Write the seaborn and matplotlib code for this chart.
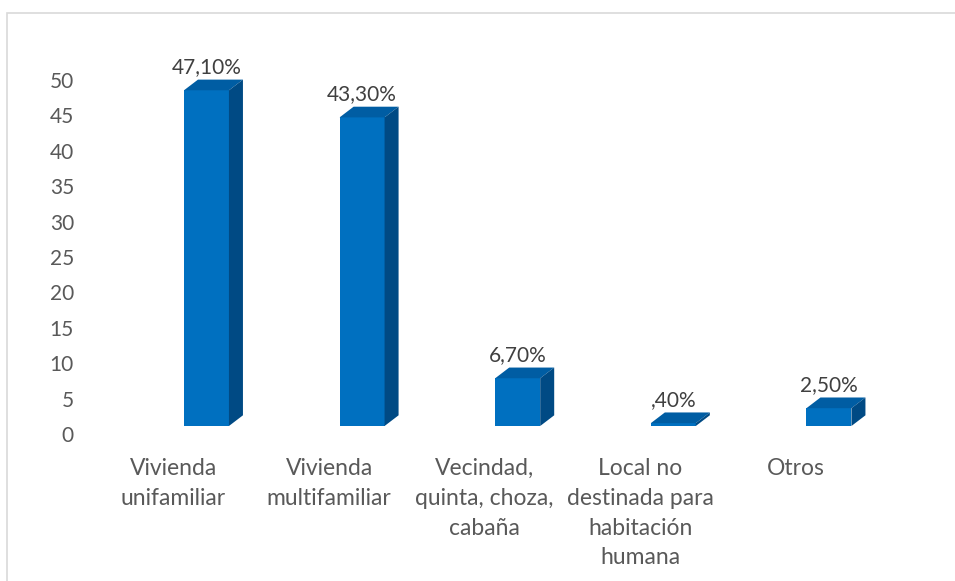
import numpy as np
import pandas as pd
import matplotlib
matplotlib.use("Agg")
import matplotlib.pyplot as plt
from matplotlib.patches import Polygon, Rectangle
import seaborn as sns

categories = [
    "Vivienda\nunifamiliar",
    "Vivienda\nmultifamiliar",
    "Vecindad,\nquinta, choza,\ncabaña",
    "Local no\ndestinada para\nhabitación\nhumana",
    "Otros",
]
values = [47.1, 43.3, 6.7, 0.4, 2.5]
y_ticks = [0, 5, 10, 15, 20, 25, 30, 35, 40, 45, 50]

FRONT = "#0070C0"
TOP = "#005DA3"
SIDE = "#004A84"
TEXT = "#595959"
LABEL = "#404040"

sns.set_theme(style="white")
plt.rcParams["font.family"] = ["Lato", "DejaVu Sans"]

W, H = 955, 581
fig = plt.figure(figsize=(W / 100, H / 100), dpi=100)


def px_axes(x0, y_top, x1, y_bot):
    return [x0 / W, (H - y_bot) / H, (x1 - x0) / W, (y_bot - y_top) / H]


# chart frame (continues past the right and bottom edges)
fig.patches.append(Rectangle((7 / W, -0.05), (980 - 7) / W, (H - 13) / H + 0.05,
                             transform=fig.transFigure, fill=False,
                             edgecolor="#D9D9D9", lw=1.2))

# value axis on the back wall
ax_y = fig.add_axes(px_axes(76, 434 - 55 * 7.08, 955, 434))
ax_y.set_ylim(0, 55)
ax_y.set_yticks(y_ticks)
ax_y.set_xticks([])
ax_y.tick_params(axis="y", length=0, pad=1.5, labelsize=15, labelcolor=TEXT)
for s in ax_y.spines.values():
    s.set_visible(False)
ax_y.patch.set_alpha(0)

# bars
ax = fig.add_axes(px_axes(72, 34, 955, 426))
df = pd.DataFrame({"cat": categories, "val": values})
bar_w = 0.289
sns.barplot(data=df, x="cat", y="val", color=FRONT, width=bar_w,
            saturation=1, ax=ax, zorder=3)
ax.set_ylim(0, 55)
ax.set_xlim(-0.864, 4.810)
ax.patch.set_alpha(0)
for s in ax.spines.values():
    s.set_visible(False)
ax.set_yticks([])
ax.set_xlabel("")
ax.set_ylabel("")

dx, dy = 0.09, 1.5
for p in ax.patches:
    x0 = p.get_x()
    x1 = x0 + p.get_width()
    h = p.get_height()
    p.set_edgecolor("none")
    top = Polygon([(x0, h), (x1, h), (x1 + dx, h + dy), (x0 + dx, h + dy)],
                  closed=True, facecolor=TOP, edgecolor="none", zorder=3)
    side = Polygon([(x1, 0), (x1 + dx, dy), (x1 + dx, h + dy), (x1, h)],
                   closed=True, facecolor=SIDE, edgecolor="none", zorder=3)
    ax.add_patch(top)
    ax.add_patch(side)


def fmt(v):
    s = f"{v:.2f}".replace(".", ",")
    if s.startswith("0,"):
        s = s[1:]
    return s + "%"


for i, v in enumerate(values):
    ax.annotate(fmt(v), (i, v), xytext=(0, 12.5), textcoords="offset points",
                ha="center", va="baseline", fontsize=15, color=LABEL)

ax.set_xticks(np.arange(len(categories)) - 0.212)
ax.set_xticklabels(categories, fontsize=16.5, color=TEXT, linespacing=1.52,
                   va="top")
ax.tick_params(axis="x", length=0, pad=23)

fig.savefig("out.png", dpi=100)
